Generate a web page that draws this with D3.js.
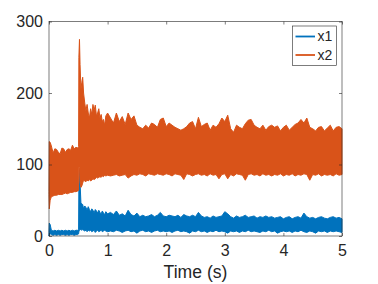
<!DOCTYPE html>
<html>
<head>
<meta charset="utf-8">
<script src="https://d3js.org/d3.v7.min.js"></script>
<style>
  body { margin: 0; background: #fff; }
  text { font-family: "Liberation Sans", Arial, Helvetica, sans-serif; fill: #262626; }
  .axis .domain { display: none; }
  .axis line { stroke: #262626; stroke-width: 0.6; }
</style>
</head>
<body>
<svg id="chart" width="378" height="284"></svg>
<script>
// sample times (s), irregular near the step at t = 0.5
const times = [0, 0.005, 0.02, 0.04, 0.07, 0.10, 0.13, 0.16, 0.19, 0.22, 0.25, 0.28, 0.31, 0.34, 0.37, 0.40, 0.43, 0.46, 0.49, 0.505,
  0.51, 0.52, 0.53, 0.545, 0.56, 0.575, 0.59, 0.61, 0.63, 0.65, 0.67, 0.69, 0.71, 0.73, 0.75, 0.77, 0.79, 0.81, 0.83, 0.85, 0.87, 0.89, 0.91, 0.93, 0.95, 0.97, 1.00,
  1.05, 1.10, 1.15, 1.20, 1.25, 1.30, 1.35, 1.40, 1.45, 1.50, 1.55, 1.60, 1.65, 1.70, 1.75, 1.80, 1.85, 1.90, 1.95, 2.00,
  2.05, 2.10, 2.15, 2.20, 2.25, 2.30, 2.35, 2.40, 2.45, 2.50, 2.55, 2.60, 2.65, 2.70, 2.75, 2.80, 2.85, 2.90, 2.95, 3.00,
  3.05, 3.10, 3.15, 3.20, 3.25, 3.30, 3.35, 3.40, 3.45, 3.50, 3.55, 3.60, 3.65, 3.70, 3.75, 3.80, 3.85, 3.90, 3.95, 4.00,
  4.05, 4.10, 4.15, 4.20, 4.25, 4.30, 4.35, 4.40, 4.45, 4.50, 4.55, 4.60, 4.65, 4.70, 4.75, 4.80, 4.85, 4.90, 4.95, 5.00];

// envelope of the fast oscillation: upper / lower values per sample
const x1Hi = [5, 18, 16, 8, 7, 8, 7, 8, 7, 8, 7, 8, 7, 8, 7, 8, 7, 8, 8, 9,
  70, 92, 75, 46, 45, 44, 38, 42, 40, 36, 41, 37, 34, 38, 36, 32, 37, 35, 32, 36, 33, 31, 35, 32, 30, 34, 31,
  33, 30, 35, 29, 31, 28, 36, 30, 28, 32, 27, 29, 27, 28, 30, 27, 29, 33, 28, 27,
  29, 28, 27, 29, 26, 30, 28, 27, 29, 27, 33, 28, 26, 27, 25, 28, 26, 27, 28, 34,
  31, 27, 25, 28, 26, 27, 29, 26, 27, 28, 25, 27, 26, 28, 26, 27, 25, 26, 27, 24,
  26, 27, 24, 26, 27, 25, 32, 27, 25, 26, 24, 26, 27, 25, 24, 26, 27, 25, 26, 24];
const x1Lo = [0, 2, 3, 2, 1, 2, 1, 2, 1, 2, 2, 1, 2, 1, 2, 2, 1, 2, 2, 3,
  6, 8, 9, 9, 8, 9, 8, 7, 8, 6, 8, 7, 8, 6, 7, 8, 5, 7, 8, 6, 7, 8, 6, 7, 8, 7, 6,
  7, 6, 8, 7, 5, 7, 8, 6, 7, 4, 7, 8, 6, 7, 5, 7, 8, 6, 7, 6,
  7, 5, 7, 8, 6, 7, 6, 4, 7, 6, 8, 6, 7, 5, 7, 6, 8, 6, 7, 6,
  4, 7, 6, 7, 5, 7, 6, 8, 6, 7, 6, 5, 7, 6, 8, 6, 7, 4, 6, 7,
  6, 7, 5, 7, 6, 8, 6, 5, 7, 6, 4, 7, 6, 7, 5, 7, 6, 7, 6, 5];
const x2Hi = [62, 132, 131, 126, 116, 122, 121, 117, 115, 123, 122, 117, 121, 122, 120, 127, 122, 124, 123, 125,
  250, 275, 240, 205, 215, 222, 200, 186, 175, 184, 172, 165, 178, 170, 184, 176, 183, 168, 172, 178, 165, 170, 160, 163, 155, 168, 172,
  165, 158, 172, 160, 167, 156, 172, 163, 168, 155, 152, 150, 155, 151, 158, 156, 152, 163, 165, 153,
  158, 155, 152, 150, 148, 150, 153, 158, 160, 150, 166, 153, 156, 158, 148, 155, 152, 157, 165, 160,
  169, 150, 145, 155, 152, 150, 157, 162, 163, 155, 152, 150, 155, 148, 153, 155, 152, 154, 147, 152,
  155, 148, 152, 156, 158, 163, 158, 165, 152, 150, 147, 152, 153, 147, 151, 155, 147, 152, 153, 150];
const x2Lo = [58, 38, 50, 55, 56, 57, 57, 58, 58, 58, 59, 60, 59, 60, 61, 61, 62, 62, 63, 64,
  96, 95, 76, 68, 70, 74, 78, 77, 76, 78, 77, 79, 77, 78, 80, 79, 80, 82, 81, 82, 83, 82, 84, 83, 85, 84, 85,
  84, 85, 86, 84, 85, 86, 81, 84, 86, 85, 87, 86, 84, 87, 86, 85, 87, 86, 85, 87,
  86, 84, 87, 86, 85, 79, 87, 86, 84, 86, 87, 85, 86, 84, 87, 85, 86, 80, 86, 87,
  80, 86, 84, 87, 86, 85, 78, 86, 87, 85, 86, 84, 87, 85, 86, 84, 86, 85, 87, 84,
  86, 85, 87, 84, 86, 85, 87, 86, 78, 86, 85, 87, 84, 86, 85, 86, 84, 87, 85, 86];

const xTicks = [0, 1, 2, 3, 4, 5];
const yTicks = [0, 100, 200, 300];
const seriesNames = ["x1", "x2"];
const seriesColors = ["#0072BD", "#D95319"];

const svg = d3.select("#chart");
const margin = { top: 21.5, right: 36, bottom: 48, left: 49 };
const width = 378 - margin.left - margin.right;
const height = 284 - margin.top - margin.bottom;

const x = d3.scaleLinear().domain([0, 5]).range([0, width]);
const y = d3.scaleLinear().domain([0, 300]).range([height, 0]);

const g = svg.append("g").attr("transform", `translate(${margin.left},${margin.top})`);

// data bands, x1 first then x2 on top
const bands = [
  { hi: x1Hi, lo: x1Lo, color: seriesColors[0] },
  { hi: x2Hi, lo: x2Lo, color: seriesColors[1] }
];
const area = d3.area()
  .x(d => x(d.t))
  .y0(d => y(d.lo))
  .y1(d => y(d.hi));

bands.forEach(b => {
  const rows = times.map((t, i) => ({ t: t, hi: b.hi[i], lo: b.lo[i] }));
  g.append("path")
    .datum(rows)
    .attr("d", area)
    .attr("fill", b.color)
    .attr("stroke", b.color)
    .attr("stroke-width", 1)
    .attr("stroke-linejoin", "round");
});

// axes with inward ticks on all four sides
const fontTick = "16px";
g.append("g").attr("class", "axis")
  .attr("transform", `translate(0,${height})`)
  .call(d3.axisBottom(x).tickValues(xTicks).tickSizeInner(-3).tickSizeOuter(0).tickPadding(9).tickFormat(d3.format("d")))
  .selectAll("text").style("font-size", fontTick);
g.append("g").attr("class", "axis")
  .call(d3.axisTop(x).tickValues(xTicks).tickSizeInner(-3).tickSizeOuter(0).tickFormat(""));
g.append("g").attr("class", "axis")
  .call(d3.axisLeft(y).tickValues(yTicks).tickSizeInner(-3).tickSizeOuter(0).tickPadding(6).tickFormat(d3.format("d")))
  .selectAll("text").style("font-size", fontTick);
g.append("g").attr("class", "axis")
  .attr("transform", `translate(${width},0)`)
  .call(d3.axisRight(y).tickValues(yTicks).tickSizeInner(-3).tickSizeOuter(0).tickFormat(""));

g.append("rect")
  .attr("width", width).attr("height", height)
  .attr("fill", "none").attr("stroke", "#262626").attr("stroke-width", 0.6);

g.append("text")
  .attr("x", width / 2).attr("y", height + 41.5)
  .attr("text-anchor", "middle")
  .style("font-size", "17.6px")
  .text("Time (s)");

// legend
const legend = svg.append("g").attr("transform", "translate(292.5,26)");
legend.append("rect")
  .attr("width", 44).attr("height", 39.5)
  .attr("fill", "#fff").attr("stroke", "#262626").attr("stroke-width", 0.6);
seriesNames.forEach((name, i) => {
  const ly = 10.5 + i * 18.5;
  legend.append("line")
    .attr("x1", 3).attr("x2", 22.5).attr("y1", ly).attr("y2", ly)
    .attr("stroke", seriesColors[i]).attr("stroke-width", 1.8);
  legend.append("text")
    .attr("x", 25).attr("y", ly).attr("dy", "0.35em")
    .style("font-size", "14px")
    .text(name);
});
</script>
</body>
</html>
